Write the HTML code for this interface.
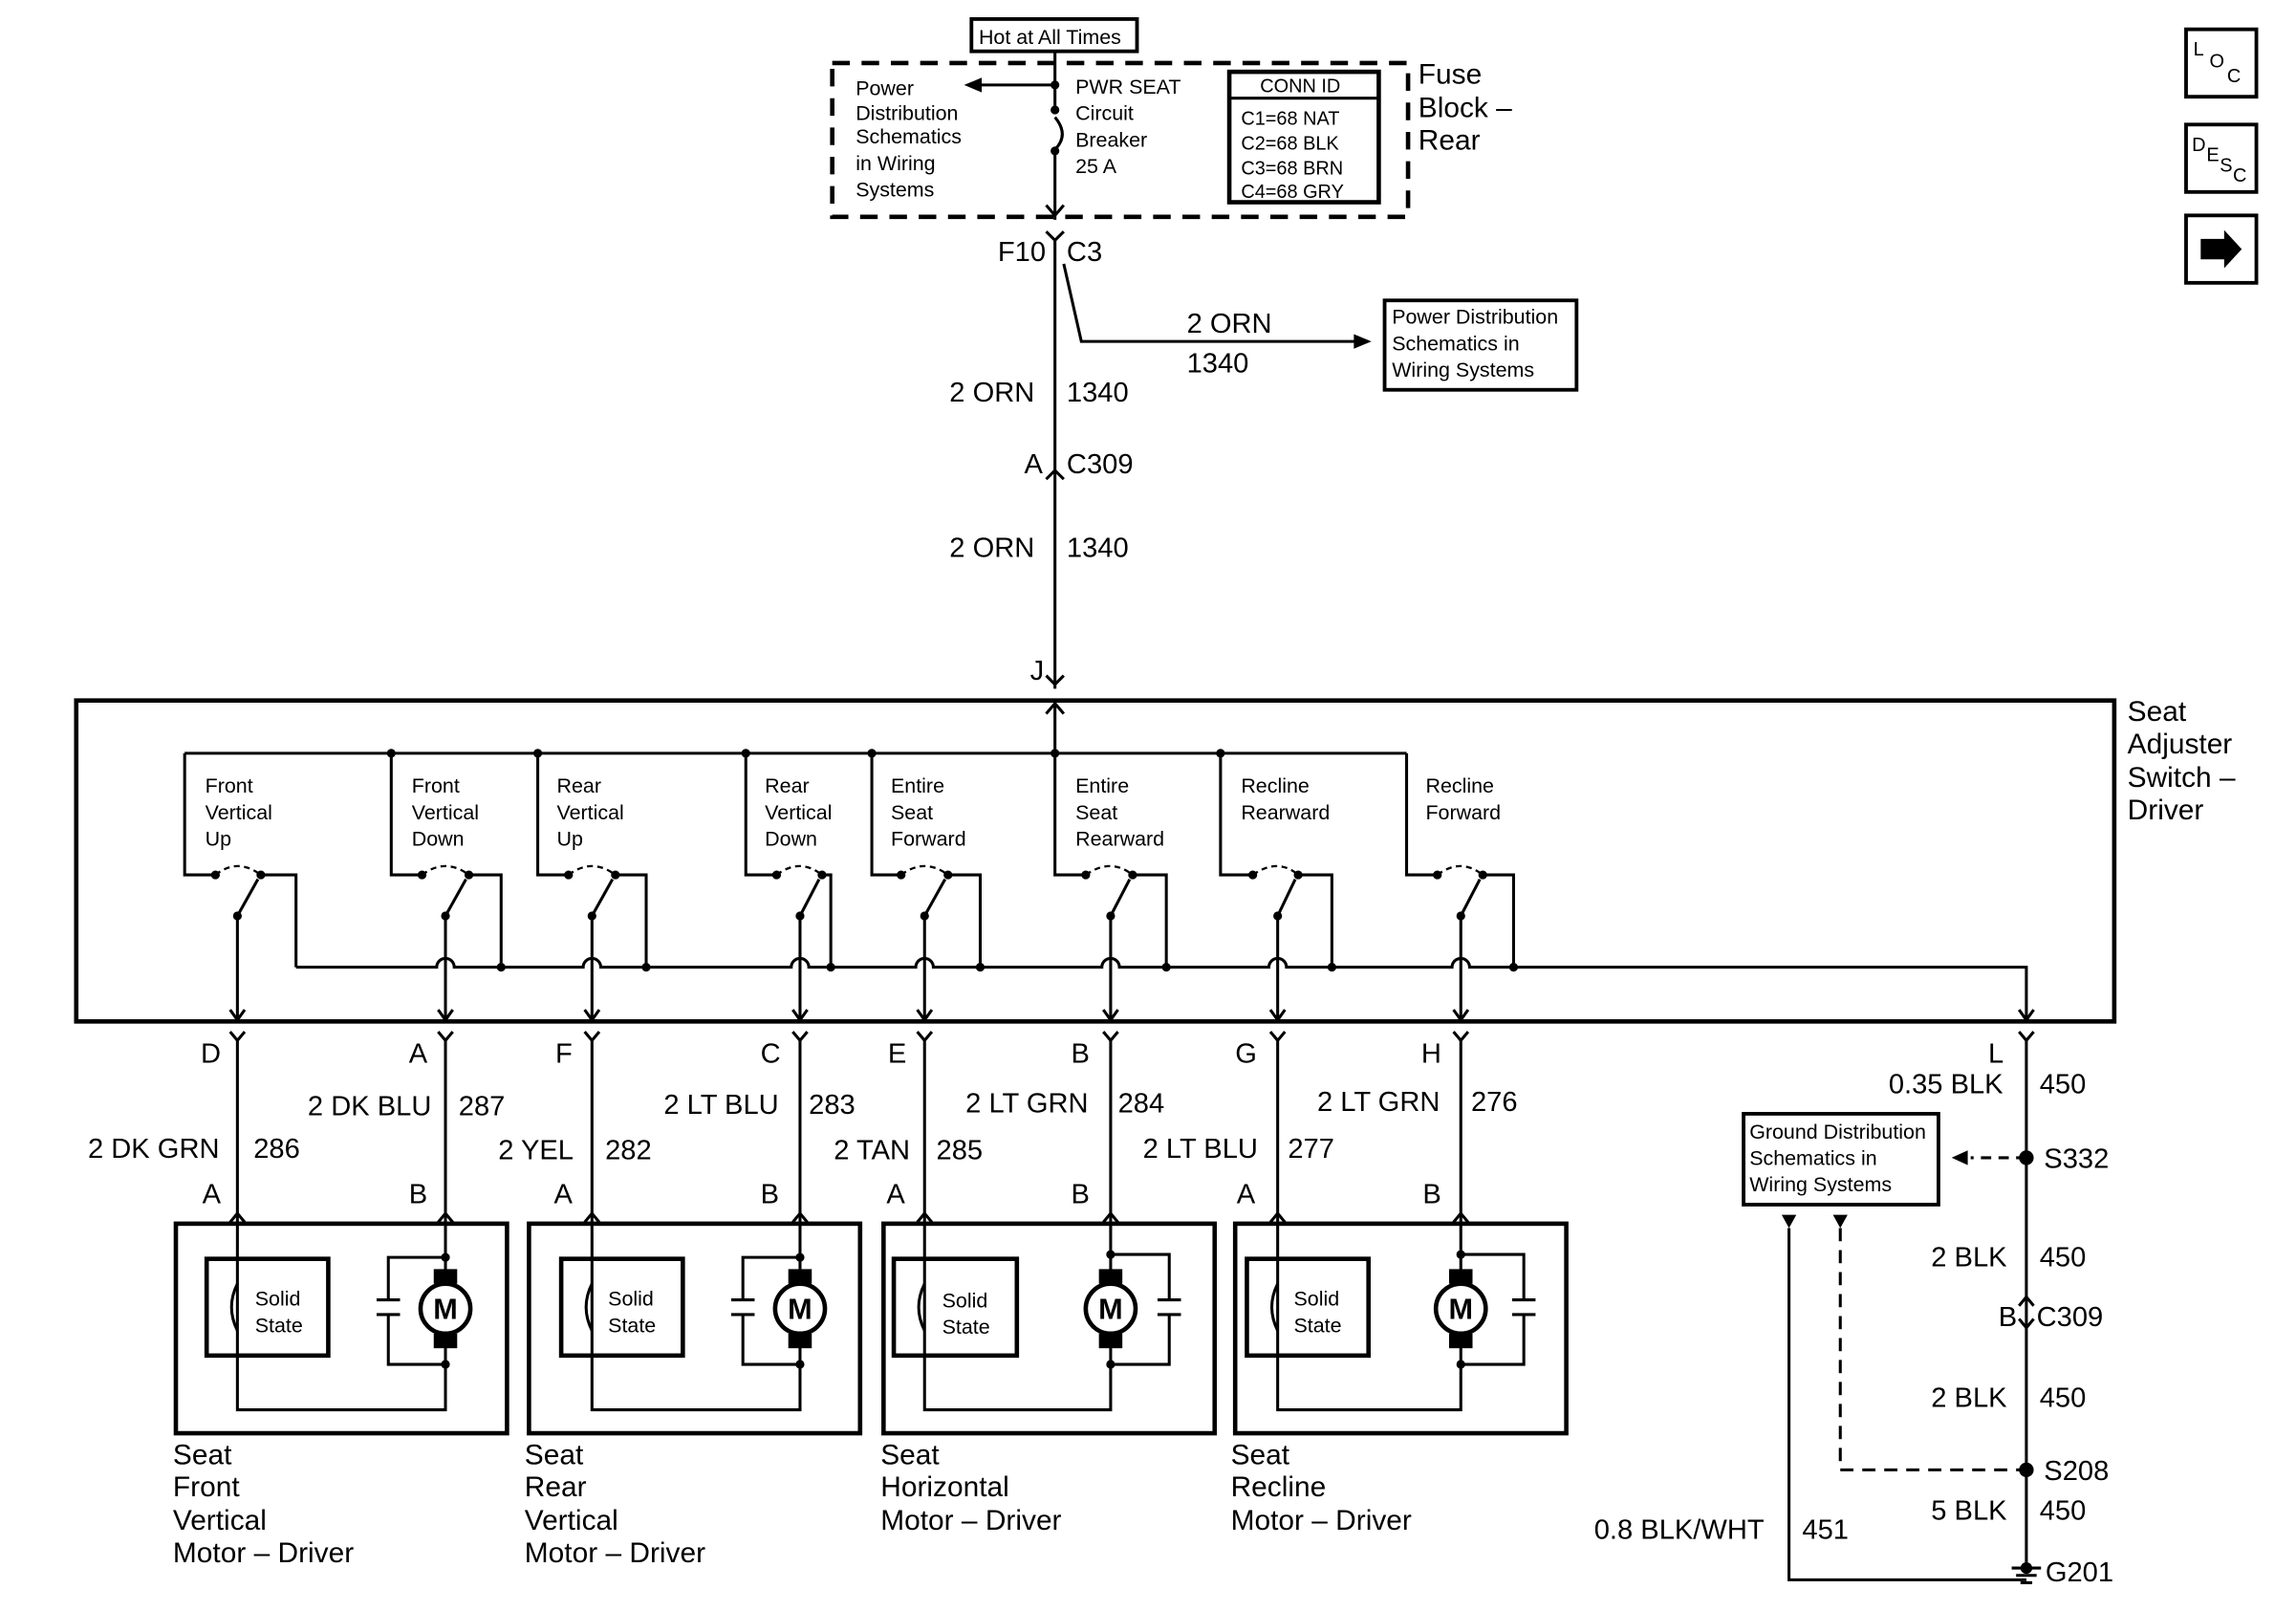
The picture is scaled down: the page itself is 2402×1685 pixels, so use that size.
<!DOCTYPE html>
<html><head><meta charset="utf-8"><style>
html,body{margin:0;padding:0;background:#fff}
svg{display:block}
text{font-family:"Liberation Sans",Arial,sans-serif;fill:#000}
.s{font-size:14px}.m{font-size:19px}.l{font-size:19.5px}
</style></head><body>
<svg width="2402" height="1685" viewBox="0 0 1567 1099.3" xmlns="http://www.w3.org/2000/svg">
<g fill="none" stroke="#000" stroke-width="2">
<rect x="663" y="13" width="113" height="22" stroke-width="2.5"/>
<rect x="568" y="43" width="393" height="105" stroke-width="3" stroke-dasharray="12,8"/>
<rect x="839" y="49" width="102" height="89" stroke-width="3"/>
<line x1="839" y1="67" x2="941" y2="67"/>
<path d="M720 35 V74 M720 104 V150 M720 58 H668"/>
<path d="M720 80 Q730 92 720 102"/>
<path d="M714 140 L720 147 L726 140"/>
<path d="M714 158 L720 164 L726 158 M720 164 V470 M726 180 L738 233 H932"/>
<path d="M714 327 L720 321 L726 327"/>
<path d="M714 461 L720 467 L726 461"/>
<rect x="945" y="205" width="131" height="61" stroke-width="2.5"/>
<rect x="52" y="478" width="1391" height="219" stroke-width="3"/>
<path d="M720 478 V514 M714 487 L720 480 L726 487"/>
<path d="M126 514 H960"/>
<path d="M126 514 V597 H147 M178 597 H202 V660 M162 625 V695"/>
<path d="M267 514 V597 H288 M320 597 H342 V660 M304 625 V695"/>
<path d="M367 514 V597 H388 M420 597 H441 V660 M404 625 V695"/>
<path d="M509 514 V597 H530 M561 597 H567 V660 M546 625 V695"/>
<path d="M595 514 V597 H615 M647 597 H669 V660 M631 625 V695"/>
<path d="M720 514 V597 H741 M773 597 H796 V660 M758 625 V695"/>
<path d="M833 514 V597 H855 M886 597 H909 V660 M872 625 V695"/>
<path d="M960 514 V597 H981 M1012 597 H1033 V660 M997 625 V695"/>
<path d="M162 625 L176 600 M304 625 L318 600 M404 625 L418 600 M546 625 L559 600 M631 625 L645 600 M758 625 L771 600 M872 625 L884 600 M997 625 L1010 600"/>
<g stroke-dasharray="4,3" stroke-width="1.5">
<path d="M147 597 Q162 585 178 597 M288 597 Q304 585 320 597 M388 597 Q404 585 420 597 M530 597 Q546 585 561 597 M615 597 Q631 585 647 597 M741 597 Q758 585 773 597 M855 597 Q872 585 886 597 M981 597 Q997 585 1012 597"/>
</g>
<path d="M202 660 H298 a6 6 0 0 1 12 0 H398 a6 6 0 0 1 12 0 H540 a6 6 0 0 1 12 0 H625 a6 6 0 0 1 12 0 H752 a6 6 0 0 1 12 0 H866 a6 6 0 0 1 12 0 H991 a6 6 0 0 1 12 0 H1383 V695"/>
<g>
<path d="M157 689 L162 696 L167 689 M299 689 L304 696 L309 689 M399 689 L404 696 L409 689 M541 689 L546 696 L551 689 M626 689 L631 696 L636 689 M753 689 L758 696 L763 689 M867 689 L872 696 L877 689 M992 689 L997 696 L1002 689 M1378 689 L1383 696 L1388 689"/>
<path d="M157 704 L162 710 L167 704 M299 704 L304 710 L309 704 M399 704 L404 710 L409 704 M541 704 L546 710 L551 704 M626 704 L631 710 L636 704 M753 704 L758 710 L763 704 M867 704 L872 710 L877 704 M992 704 L997 710 L1002 704 M1378 704 L1383 710 L1388 704"/>
<path d="M162 710 V962 H304 V710 M404 710 V962 H546 V710 M631 710 V962 H758 V710 M872 710 V962 H997 V710"/>
<path d="M157 834 L162 828 L167 834 M299 834 L304 828 L309 834 M399 834 L404 828 L409 834 M541 834 L546 828 L551 834 M626 834 L631 828 L636 834 M753 834 L758 828 L763 834 M867 834 L872 828 L877 834 M992 834 L997 828 L1002 834"/>
</g>
<rect x="120" y="835" width="226" height="143" stroke-width="3"/>
<rect x="361" y="835" width="226" height="143" stroke-width="3"/>
<rect x="603" y="835" width="226" height="143" stroke-width="3"/>
<rect x="843" y="835" width="226" height="143" stroke-width="3"/>
<rect x="141" y="859" width="83" height="66" stroke-width="3"/>
<rect x="383" y="859" width="83" height="66" stroke-width="3"/>
<rect x="610" y="859" width="84" height="66" stroke-width="3"/>
<rect x="851" y="859" width="83" height="66" stroke-width="3"/>
<path d="M162 876 Q154 892 162 908 M404 876 Q396 892 404 908 M631 876 Q623 892 631 908 M872 876 Q864 892 872 908"/>
<g fill="#fff" stroke-width="3">
<circle cx="304" cy="893" r="17"/><circle cx="546" cy="893" r="17"/><circle cx="758" cy="893" r="17"/><circle cx="997" cy="893" r="17"/>
</g>
<path d="M304 858 H265 V887 M257 887 H273 M257 897 H273 M265 897 V931 H304"/>
<path d="M546 858 H507 V887 M499 887 H515 M499 897 H515 M507 897 V931 H546"/>
<path d="M758 856 H798 V887 M790 887 H806 M790 897 H806 M798 897 V931 H758"/>
<path d="M997 856 H1040 V887 M1032 887 H1048 M1032 897 H1048 M1040 897 V931 H997"/>
<path d="M1383 710 V1070"/>
<path d="M1383 790 H1345" stroke-dasharray="7,5"/>
<rect x="1190" y="760" width="133" height="62" stroke-width="2.5"/>
<path d="M1221 838 V1078 H1383"/>
<path d="M1256 838 V1003 H1383" stroke-dasharray="9,6"/>
<path d="M1378 891 L1383 885 L1388 891 M1378 900 L1383 906 L1388 900"/>
<path d="M1373 1070 H1393 M1376 1075 H1390 M1379 1080 H1387"/>
<rect x="1492" y="20" width="48" height="46" stroke-width="2.5"/>
<rect x="1492" y="85" width="48" height="46" stroke-width="2.5"/>
<rect x="1492" y="147" width="48" height="46" stroke-width="2.5"/>
</g>
<g fill="#000">
<path d="M658 58 L670 53 L670 63 Z"/>
<path d="M936 233 L924 228 L924 238 Z"/>
<path d="M1332 790 L1343 785 L1343 795 Z"/>
<path d="M1216 829 L1226 829 L1221 838 Z M1251 829 L1261 829 L1256 838 Z"/>
<path d="M1502 163 H1518 V157 L1530 170 L1518 183 V177 H1502 Z"/>
<circle cx="720" cy="58" r="3"/><circle cx="720" cy="75" r="3"/><circle cx="720" cy="103" r="3"/>
<circle cx="267" cy="514" r="3"/><circle cx="367" cy="514" r="3"/><circle cx="509" cy="514" r="3"/><circle cx="595" cy="514" r="3"/><circle cx="720" cy="514" r="3"/><circle cx="833" cy="514" r="3"/>
<circle cx="342" cy="660" r="3"/><circle cx="441" cy="660" r="3"/><circle cx="567" cy="660" r="3"/><circle cx="669" cy="660" r="3"/><circle cx="796" cy="660" r="3"/><circle cx="909" cy="660" r="3"/><circle cx="1033" cy="660" r="3"/>
<g>
<circle cx="147" cy="597" r="3"/><circle cx="178" cy="597" r="3"/><circle cx="162" cy="625" r="3"/>
<circle cx="288" cy="597" r="3"/><circle cx="320" cy="597" r="3"/><circle cx="304" cy="625" r="3"/>
<circle cx="388" cy="597" r="3"/><circle cx="420" cy="597" r="3"/><circle cx="404" cy="625" r="3"/>
<circle cx="530" cy="597" r="3"/><circle cx="561" cy="597" r="3"/><circle cx="546" cy="625" r="3"/>
<circle cx="615" cy="597" r="3"/><circle cx="647" cy="597" r="3"/><circle cx="631" cy="625" r="3"/>
<circle cx="741" cy="597" r="3"/><circle cx="773" cy="597" r="3"/><circle cx="758" cy="625" r="3"/>
<circle cx="855" cy="597" r="3"/><circle cx="886" cy="597" r="3"/><circle cx="872" cy="625" r="3"/>
<circle cx="981" cy="597" r="3"/><circle cx="1012" cy="597" r="3"/><circle cx="997" cy="625" r="3"/>
</g>
<g>
<rect x="296" y="866" width="16" height="10"/><rect x="296" y="910" width="16" height="10"/>
<rect x="538" y="866" width="16" height="10"/><rect x="538" y="910" width="16" height="10"/>
<rect x="750" y="866" width="16" height="10"/><rect x="750" y="910" width="16" height="10"/>
<rect x="989" y="866" width="16" height="10"/><rect x="989" y="910" width="16" height="10"/>
<circle cx="304" cy="858" r="3"/><circle cx="304" cy="931" r="3"/><circle cx="546" cy="858" r="3"/><circle cx="546" cy="931" r="3"/>
<circle cx="758" cy="856" r="3"/><circle cx="758" cy="931" r="3"/><circle cx="997" cy="856" r="3"/><circle cx="997" cy="931" r="3"/>
</g>
<circle cx="1383" cy="790" r="5"/><circle cx="1383" cy="1003" r="5"/><circle cx="1383" cy="1070" r="4"/>
</g>
<text class="s" x="668" y="30">Hot at All Times</text>
<text class="s" x="584" y="65">Power</text><text class="s" x="584" y="82">Distribution</text><text class="s" x="584" y="98">Schematics</text><text class="s" x="584" y="116">in Wiring</text><text class="s" x="584" y="134">Systems</text>
<text class="s" x="734" y="64">PWR SEAT</text><text class="s" x="734" y="82">Circuit</text><text class="s" x="734" y="100">Breaker</text><text class="s" x="734" y="118">25 A</text>
<g font-size="13">
<text x="860" y="63">CONN ID</text>
<text x="847" y="85">C1=68 NAT</text><text x="847" y="102">C2=68 BLK</text><text x="847" y="119">C3=68 BRN</text><text x="847" y="135">C4=68 GRY</text>
</g>
<text class="l" x="968" y="57">Fuse</text><text class="l" x="968" y="80">Block –</text><text class="l" x="968" y="102">Rear</text>
<text class="m" x="681" y="178">F10</text><text class="m" x="728" y="178">C3</text>
<text class="m" x="810" y="227">2 ORN</text><text class="m" x="810" y="254">1340</text>
<text class="s" x="950" y="221">Power Distribution</text><text class="s" x="950" y="239">Schematics in</text><text class="s" x="950" y="257">Wiring Systems</text>
<text class="m" x="648" y="274">2 ORN</text><text class="m" x="728" y="274">1340</text>
<text class="m" x="699" y="323">A</text><text class="m" x="728" y="323">C309</text>
<text class="m" x="648" y="380">2 ORN</text><text class="m" x="728" y="380">1340</text>
<text class="m" x="703" y="464">J</text>
<text class="l" x="1452" y="492">Seat</text><text class="l" x="1452" y="514">Adjuster</text><text class="l" x="1452" y="537">Switch –</text><text class="l" x="1452" y="559">Driver</text>
<g class="s">
<text x="140" y="541">Front</text><text x="140" y="559">Vertical</text><text x="140" y="577">Up</text>
<text x="281" y="541">Front</text><text x="281" y="559">Vertical</text><text x="281" y="577">Down</text>
<text x="380" y="541">Rear</text><text x="380" y="559">Vertical</text><text x="380" y="577">Up</text>
<text x="522" y="541">Rear</text><text x="522" y="559">Vertical</text><text x="522" y="577">Down</text>
<text x="608" y="541">Entire</text><text x="608" y="559">Seat</text><text x="608" y="577">Forward</text>
<text x="734" y="541">Entire</text><text x="734" y="559">Seat</text><text x="734" y="577">Rearward</text>
<text x="847" y="541">Recline</text><text x="847" y="559">Rearward</text>
<text x="973" y="541">Recline</text><text x="973" y="559">Forward</text>
</g>
<g class="m">
<text x="137" y="725">D</text><text x="279" y="725">A</text><text x="379" y="725">F</text><text x="519" y="725">C</text><text x="606" y="725">E</text><text x="731" y="725">B</text><text x="843" y="725">G</text><text x="970" y="725">H</text><text x="1357" y="725">L</text>
<text x="60" y="790">2 DK GRN</text><text x="173" y="790">286</text>
<text x="210" y="761">2 DK BLU</text><text x="313" y="761">287</text>
<text x="340" y="791">2 YEL</text><text x="413" y="791">282</text>
<text x="453" y="760">2 LT BLU</text><text x="552" y="760">283</text>
<text x="569" y="791">2 TAN</text><text x="639" y="791">285</text>
<text x="659" y="759">2 LT GRN</text><text x="763" y="759">284</text>
<text x="780" y="790">2 LT BLU</text><text x="879" y="790">277</text>
<text x="899" y="758">2 LT GRN</text><text x="1004" y="758">276</text>
<text x="138" y="821">A</text><text x="279" y="821">B</text><text x="378" y="821">A</text><text x="519" y="821">B</text><text x="605" y="821">A</text><text x="731" y="821">B</text><text x="844" y="821">A</text><text x="971" y="821">B</text>
</g>
<g class="s">
<text x="174" y="891">Solid</text><text x="174" y="909">State</text>
<text x="415" y="891">Solid</text><text x="415" y="909">State</text>
<text x="643" y="892">Solid</text><text x="643" y="910">State</text>
<text x="883" y="891">Solid</text><text x="883" y="909">State</text>
</g>
<g font-size="20" font-weight="bold" text-anchor="middle">
<text x="304" y="900">M</text><text x="546" y="900">M</text><text x="758" y="900">M</text><text x="997" y="900">M</text>
</g>
<g class="l">
<text x="118" y="999">Seat</text><text x="118" y="1021">Front</text><text x="118" y="1044">Vertical</text><text x="118" y="1066">Motor – Driver</text>
<text x="358" y="999">Seat</text><text x="358" y="1021">Rear</text><text x="358" y="1044">Vertical</text><text x="358" y="1066">Motor – Driver</text>
<text x="601" y="999">Seat</text><text x="601" y="1021">Horizontal</text><text x="601" y="1044">Motor – Driver</text>
<text x="840" y="999">Seat</text><text x="840" y="1021">Recline</text><text x="840" y="1044">Motor – Driver</text>
</g>
<g class="m">
<text x="1289" y="746">0.35 BLK</text><text x="1392" y="746">450</text>
<text x="1395" y="797">S332</text>
<text x="1318" y="864">2 BLK</text><text x="1392" y="864">450</text>
<text x="1364" y="905">B</text><text x="1390" y="905">C309</text>
<text x="1318" y="960">2 BLK</text><text x="1392" y="960">450</text>
<text x="1395" y="1010">S208</text>
<text x="1318" y="1037">5 BLK</text><text x="1392" y="1037">450</text>
<text x="1088" y="1050">0.8 BLK/WHT</text><text x="1230" y="1050">451</text>
<text x="1396" y="1079">G201</text>
</g>
<g class="s">
<text x="1194" y="777">Ground Distribution</text><text x="1194" y="795">Schematics in</text><text x="1194" y="813">Wiring Systems</text>
</g>
<g font-size="13">
<text x="1497" y="38">L</text><text x="1508" y="46">O</text><text x="1520" y="56">C</text>
<text x="1496" y="103">D</text><text x="1506" y="110">E</text><text x="1515" y="117">S</text><text x="1524" y="124">C</text>
</g>
</svg>
</body></html>
